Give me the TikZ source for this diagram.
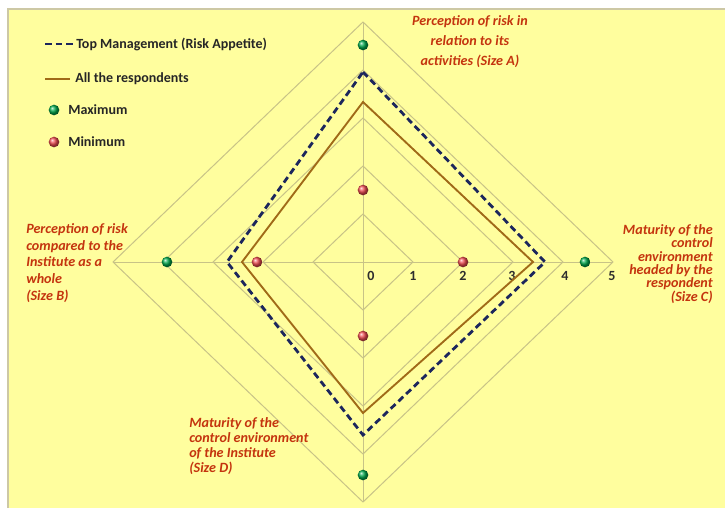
\documentclass[tikz,border=0pt]{standalone}
\usepackage{fontspec}
\setmainfont{Carlito}
\definecolor{bgyellow}{RGB}{255,254,158}
\definecolor{framec}{RGB}{205,200,165}
\definecolor{gridc}{RGB}{200,195,135}
\definecolor{navy}{RGB}{28,38,92}
\definecolor{bronze}{RGB}{160,106,24}
\definecolor{axred}{RGB}{196,52,14}
\definecolor{numc}{RGB}{45,45,45}
\lineskiplimit=-100pt
\begin{document}
\begin{tikzpicture}[x=0.75pt,y=-0.75pt,
  grid/.style={draw=gridc, line width=0.75pt},
  topline/.style={draw=navy, line width=2.1pt, dash pattern=on 5pt off 3pt, line join=miter},
  allline/.style={draw=bronze, line width=1.4pt, line join=miter},
  maxdot/.style={circle, inner sep=0pt, minimum size=8pt, shading=ball, ball color={rgb,255:red,0;green,170;blue,75}},
  mindot/.style={circle, inner sep=0pt, minimum size=8pt, shading=ball, ball color={rgb,255:red,240;green,75;blue,80}},
  numlbl/.style={font=\fontsize{10.5}{12}\selectfont\bfseries, text=numc, inner sep=0pt},
  axlbl/.style={font=\fontsize{10.6}{#1}\selectfont\bfseries\itshape, text=axred, inner sep=0pt},
  leglbl/.style={font=\fontsize{10.5}{12}\selectfont\bfseries, text=black!85, inner sep=0pt, anchor=west}]
\useasboundingbox (0,0) rectangle (725,508);
\fill[white] (0,0) rectangle (725,508);
\fill[bgyellow] (8,9) rectangle (725,508);
\draw[framec, line width=1.5pt] (8,508) -- (8,9) -- (725,9);

% concentric rings of the radar grid
\foreach \r in {1,...,5}
  \draw[grid] (363+50*\r,262) -- (363,262-48*\r) -- (363-50*\r,262) -- (363,262+48*\r) -- cycle;
% spokes
\draw[grid] (113,262) -- (613,262);
\draw[grid] (363,22) -- (363,502);

% scale numbers
\node[numlbl] (n0) at (371,276) {0};
\node[numlbl] (n1) at (413,276) {1};
\node[numlbl] (n2) at (463,276) {2};
\node[numlbl] (n3) at (512,276) {3};
\node[numlbl] (n4) at (565,276) {4};
\node[numlbl] (n5) at (612,276) {5};

% all the respondents
\coordinate (aA) at (363,102);
\coordinate (aC) at (533,262);
\coordinate (aD) at (363,413);
\coordinate (aB) at (242,262);
\draw[allline] (aA) -- (aC) -- (aD) -- (aB) -- cycle;

% top management (risk appetite)
\coordinate (tA) at (363,72);
\coordinate (tC) at (545,262);
\coordinate (tD) at (363,435);
\coordinate (tB) at (227,262);
\draw[topline] (tA) -- (tC) -- (tD) -- (tB) -- cycle;

% maxima and minima
\node[maxdot] (maxA) at (363,45) {};
\node[maxdot] (maxC) at (585,262) {};
\node[maxdot] (maxD) at (363,475) {};
\node[maxdot] (maxB) at (167,262) {};
\node[mindot] (minA) at (363,190) {};
\node[mindot] (minC) at (463,262) {};
\node[mindot] (minD) at (363,336) {};
\node[mindot] (minB) at (257,262) {};

% dimension labels
\node[axlbl=15pt, align=center, anchor=center] (dimA) at (470,42)
  {Perception of risk in\\ relation to its\\ activities (Size A)};
\node[axlbl=12.5pt, align=left, anchor=west] (dimB) at (26,263)
  {Perception of risk\\ compared to the\\ Institute as a\\ whole\\ (Size B)};
\node[axlbl=10pt, align=right, anchor=east] (dimC) at (713,264)
  {Maturity of the\\ control\\ environment\\ headed by the\\ respondent\\ (Size C)};
\node[axlbl=11.25pt, align=left, anchor=west] (dimD) at (189,446)
  {Maturity of the\\ control environment\\ of the Institute\\ (Size D)};

% legend
\coordinate (lt1) at (45,44);
\coordinate (lt2) at (73,44);
\draw[topline] (lt1) -- (lt2);
\node[leglbl] (legtop) at (76,44) {Top Management (Risk Appetite)};
\coordinate (la1) at (45,79);
\coordinate (la2) at (70,79);
\draw[allline] (la1) -- (la2);
\node[leglbl] (legall) at (75,79) {All the respondents};
\node[maxdot] (legmaxdot) at (54,110) {};
\node[leglbl] (legmax) at (68,110) {Maximum};
\node[mindot] (legmindot) at (54,142) {};
\node[leglbl] (legmin) at (68,142) {Minimum};
\end{tikzpicture}
\end{document}
